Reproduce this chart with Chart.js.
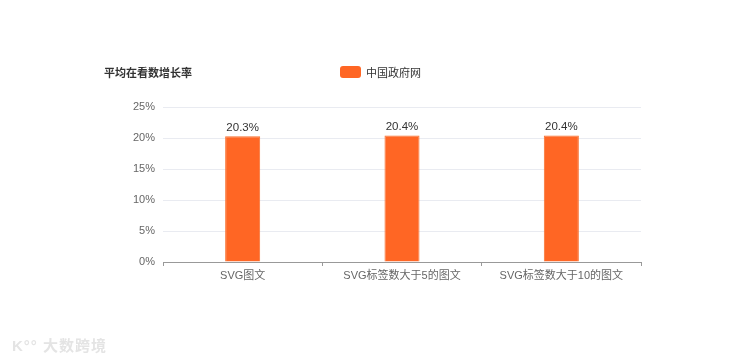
<!DOCTYPE html>
<html>
<head>
<meta charset="utf-8">
<script src="https://cdn.jsdelivr.net/npm/chart.js@4/dist/chart.umd.min.js"></script>
<style>
  html, body { margin: 0; padding: 0; background: #fff; }
  #wrap { position: relative; width: 750px; height: 358px; font-family: 'Liberation Sans', 'Noto Sans CJK SC', sans-serif; }
  #chart { position: absolute; left: 0; top: 0; }
  .title { position: absolute; left: 104px; top: 64px; font-size: 11px; font-weight: bold; color: #333; }
  .legend { position: absolute; left: 340px; top: 64px; font-size: 11px; color: #333; display: flex; align-items: center; }
  .legend i { display: inline-block; width: 21px; height: 12px; background: #ff6624; border-radius: 3px; margin-right: 5px; }
  .mark { position: absolute; left: 12px; top: 334px; font-size: 15px; font-weight: bold; color: #e4e4e4; letter-spacing: 1px; }
</style>
</head>
<body>
<div id="wrap">
  <canvas id="chart" width="750" height="358"></canvas>
  <div class="title">平均在看数增长率</div>
  <div class="legend"><i></i>中国政府网</div>
  <div class="mark">K°° 大数跨境</div>
</div>
<script>
// ---- data ----
const categories = ['SVG图文', 'SVG标签数大于5的图文', 'SVG标签数大于10的图文'];
const seriesName = '中国政府网';
const growthRate = [20.3, 20.4, 20.4];
const yTicks = [0, 5, 10, 15, 20, 25];

const FONT = "'Liberation Sans', 'Noto Sans CJK SC', sans-serif";

// draw value labels above each bar
const valueLabels = {
  id: 'valueLabels',
  afterDatasetsDraw(chart) {
    const ctx = chart.ctx;
    const meta = chart.getDatasetMeta(0);
    ctx.save();
    ctx.font = `11.5px ${FONT}`;
    ctx.fillStyle = '#333';
    ctx.textAlign = 'center';
    ctx.textBaseline = 'bottom';
    meta.data.forEach((bar, i) => {
      ctx.fillText(growthRate[i].toFixed(1) + '%', bar.x, bar.y - 3);
    });
    ctx.restore();
  }
};

const ctx = document.getElementById('chart').getContext('2d');
new Chart(ctx, {
  type: 'bar',
  data: {
    labels: categories,
    datasets: [{
      label: seriesName,
      data: growthRate,
      backgroundColor: '#ff6624',
      borderColor: '#f7702f',
      borderWidth: 1,
      barPercentage: 0.22,
      categoryPercentage: 1,
    }]
  },
  options: {
    responsive: false,
    animation: false,
    layout: { padding: { top: 107, right: 109, bottom: 56, left: 0 } },
    plugins: {
      legend: { display: false },
      tooltip: { enabled: false }
    },
    scales: {
      x: {
        afterFit: (scale) => { scale.height = 40; },
        grid: {
          display: true,
          drawOnChartArea: false,
          drawTicks: true,
          tickLength: 4,
          color: '#999',
          offset: true
        },
        border: { display: true, color: '#999', width: 1 },
        ticks: {
          color: '#666',
          padding: 3,
          font: { family: FONT, size: 11 }
        }
      },
      y: {
        min: 0,
        max: 25,
        afterFit: (scale) => { scale.width = 163; },
        afterBuildTicks: (scale) => { scale.ticks = yTicks.map(v => ({ value: v })); },
        grid: { color: '#e9ebf1', drawTicks: false },
        border: { display: false },
        ticks: {
          color: '#666',
          padding: 8,
          font: { family: FONT, size: 11 },
          callback: (v) => v + '%'
        }
      }
    }
  },
  plugins: [valueLabels]
});
</script>
</body>
</html>
